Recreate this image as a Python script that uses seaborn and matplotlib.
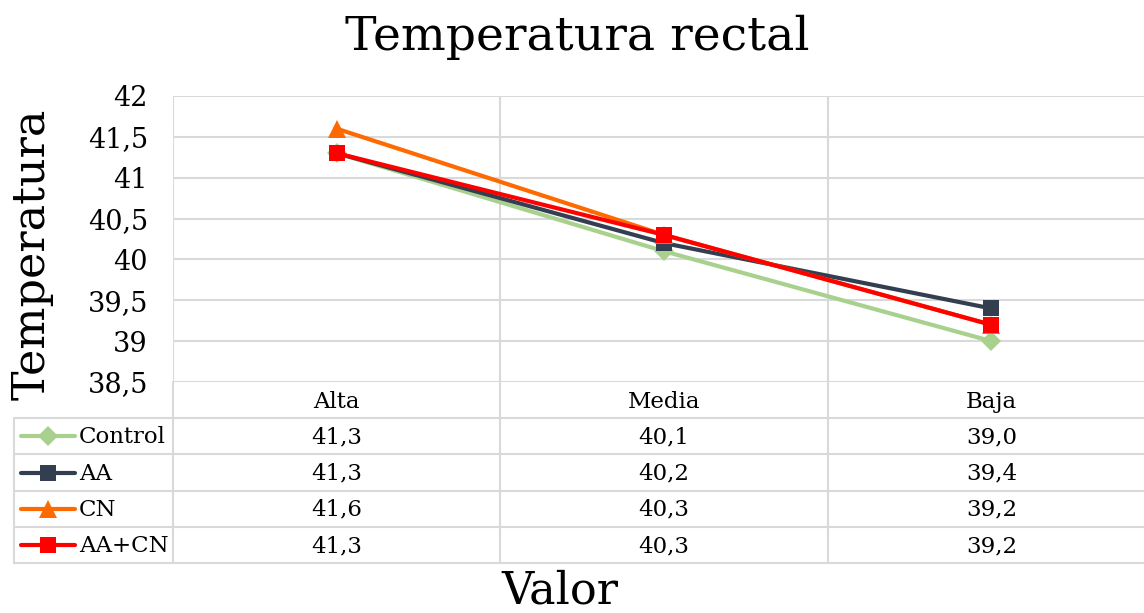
import numpy as np
import pandas as pd
import matplotlib
matplotlib.use("Agg")
import matplotlib.pyplot as plt
from matplotlib.ticker import FixedLocator, FuncFormatter
import seaborn as sns

# datos
categorias = ["Alta", "Media", "Baja"]
series = ["Control", "AA", "CN", "AA+CN"]
control = [41.3, 40.1, 39.0]
aa = [41.3, 40.2, 39.4]
cn = [41.6, 40.3, 39.2]
aa_cn = [41.3, 40.3, 39.2]
y_ticks = [38.5, 39, 39.5, 40, 40.5, 41, 41.5, 42]

colores = {"Control": "#A9D18E", "AA": "#333F50", "CN": "#FF6A00", "AA+CN": "#FF0000"}
marcadores = {"Control": "D", "AA": "s", "CN": "^", "AA+CN": "s"}
tam_marcador = {"Control": 10, "AA": 12, "CN": 13, "AA+CN": 12}

valores = {"Control": control, "AA": aa, "CN": cn, "AA+CN": aa_cn}
df = pd.DataFrame([
    {"Valor": c, "Temperatura": v, "Serie": s}
    for s in series for c, v in zip(categorias, valores[s])
])
df["x"] = df["Valor"].map({c: i for i, c in enumerate(categorias)})

sns.set_style("white")
plt.rcParams["font.family"] = ["DejaVu Serif"]
plt.rcParams["text.color"] = "black"
plt.rcParams["ytick.color"] = "black"
plt.rcParams["xtick.color"] = "black"
gris = "#D9D9D9"

W, H = 1144, 613
fig = plt.figure(figsize=(W / 100, H / 100), dpi=100)

# posiciones en píxeles del área de trazado
x0, x1 = 173, 1155
yt, yb = 96, 382
ancho_cat = (x1 - x0) / 3
ax = fig.add_axes([x0 / W, 1 - yb / H, (x1 - x0) / W, (yb - yt) / H])

for s in series:
    sub = df[df["Serie"] == s]
    sns.lineplot(data=sub, x="x", y="Temperatura", ax=ax, color=colores[s],
                 marker=marcadores[s], markersize=tam_marcador[s], markeredgewidth=0,
                 linewidth=3, legend=False)

ax.set_xlim(-0.5, 2.5)
ax.set_ylim(38.5, 42)
ax.yaxis.set_major_locator(FixedLocator(y_ticks))
ax.yaxis.set_major_formatter(FuncFormatter(lambda v, p: f"{v:g}".replace(".", ",")))
ax.xaxis.set_major_locator(FixedLocator([-0.5, 0.5, 1.5, 2.5]))
ax.set_xticklabels([])
ax.tick_params(axis="y", length=0, pad=18, labelsize=19.5, labelcolor="black")
ax.tick_params(axis="x", length=0)
ax.grid(True, color=gris, linewidth=1.5)
ax.set_axisbelow(True)
for sp in ax.spines.values():
    sp.set_visible(False)
ax.set_xlabel("")
ax.set_ylabel("")

# tabla de datos debajo del gráfico
xl = 14
yb_tab = 563
tab = fig.add_axes([xl / W, 1 - yb_tab / H, (x1 - xl) / W, (yb_tab - yb) / H])
izq = -0.5 - (x0 - xl) / ancho_cat
tab.set_xlim(izq, 2.5)
tab.set_ylim(5, 0)
tab.axis("off")

for r in range(1, 6):
    tab.plot([izq, 2.5], [r, r], color=gris, lw=1.5, clip_on=False)
for xv in [-0.5, 0.5, 1.5]:
    tab.plot([xv, xv], [0, 5], color=gris, lw=1.5, clip_on=False)
tab.plot([izq, izq], [1, 5], color=gris, lw=1.5, clip_on=False)

for i, c in enumerate(categorias):
    tab.text(i, 0.55, c, ha="center", va="center", fontsize=16.5)

px = 1 / ancho_cat
for r, s in enumerate(series, start=1):
    yc = r + 0.5
    tab.plot([izq + 7 * px, izq + 61 * px], [yc, yc], color=colores[s], lw=3,
             solid_capstyle="round", clip_on=False)
    tab.plot([izq + 34 * px], [yc], marker=marcadores[s], color=colores[s],
             markersize=tam_marcador[s], markeredgewidth=0, clip_on=False)
    tab.text(izq + 65 * px, yc + 0.03, s, ha="left", va="center", fontsize=16.5)
    for i, v in enumerate(valores[s]):
        tab.text(i, yc + 0.03, f"{v:.1f}".replace(".", ","), ha="center", va="center", fontsize=16.5)

fig.text(577 / W, 1 - 37 / H, "Temperatura rectal", ha="center", va="center", fontsize=34)
fig.text(32 / W, 1 - 254 / H, "Temperatura", ha="center", va="center", rotation=90, fontsize=32)
fig.text(560 / W, 1 / H, "Valor", ha="center", va="bottom", fontsize=32)

fig.savefig("out.png", dpi=100)
